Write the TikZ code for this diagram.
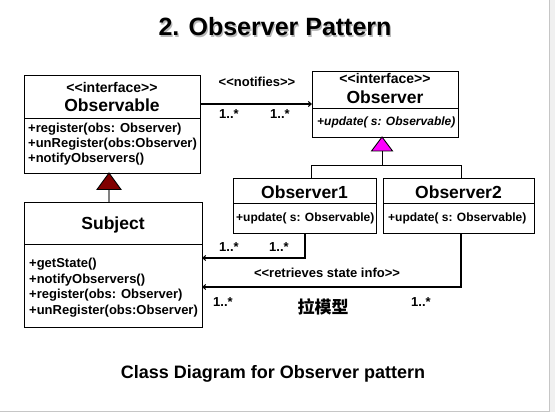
\documentclass[tikz,border=0pt]{standalone}
\usepackage{fontspec}
\setmainfont{Liberation Sans}[Ligatures=NoCommon]
\newfontfamily\cjkfont{Noto Sans CJK SC}
\usetikzlibrary{arrows.meta}
\definecolor{darkred}{HTML}{800000}
\definecolor{magentac}{HTML}{FF00FF}
\newcommand{\lt}{{<}}
\newcommand{\gtt}{{>}}
\begin{document}
\begin{tikzpicture}[x=1pt,y=-1pt,
  classbox/.style={draw, line width=0.9pt, rectangle, inner sep=0pt},
  cname/.style={font=\fontsize{17.5}{20}\selectfont\bfseries, anchor=base, inner sep=0pt},
  stereo/.style={font=\fontsize{14}{16}\selectfont\bfseries, anchor=base, inner sep=0pt},
  meth/.style={font=\fontsize{13}{15}\selectfont\bfseries, anchor=base west, inner sep=0pt},
  smeth/.style={font=\fontsize{12}{14}\selectfont\bfseries, anchor=base west, inner sep=0pt},
  lbl/.style={font=\fontsize{13}{15}\selectfont\bfseries, anchor=base, inner sep=0pt},
  conn/.style={line width=1.3pt},
  arr/.style={conn, -{Straight Barb[length=3pt,width=5pt,line width=1pt]}},
  thinline/.style={line width=0.9pt},
]
\useasboundingbox (0,0) rectangle (555,412);
% slide frame
\fill[gray!12] (549,0) rectangle (555,412);
\draw[gray!45, line width=1pt] (549,0) -- (549,411) -- (0,411);

% title
\node[font=\fontsize{25}{28}\selectfont\bfseries, text=gray!55, anchor=base, inner sep=0pt] (titleshadow) at (276.3,37.3) {2. Observer Pattern};
\node[font=\fontsize{25}{28}\selectfont\bfseries, anchor=base, inner sep=0pt] (title) at (275,36) {2. Observer Pattern};

% Observable
\node[classbox, minimum width=176pt, minimum height=98pt] (obl) at (112,124) {};
\draw[thinline] (24,118) -- (200,118);
\node[stereo] (oblst) at (112,93) {\lt\lt interface\gtt\gtt};
\node[cname] (obln) at (112,111) {Observable};
\node[meth] (oblm1) at (28,132) {+register(obs: Observer)};
\node[meth] (oblm2) at (28,147) {+unRegister(obs:Observer)};
\node[meth] (oblm3) at (28,162) {+notifyObservers()};

% Observer
\node[classbox, minimum width=146pt, minimum height=66pt] (obs) at (385,104) {};
\draw[thinline] (312,108) -- (458,108);
\node[stereo] (obsst) at (385,84) {\lt\lt interface\gtt\gtt};
\node[cname] (obsn) at (385,104) {Observer};
\node[smeth, font=\fontsize{12}{14}\selectfont\bfseries\itshape] (obsm) at (317,126) {+update( s: Observable)};

% Observer1
\node[classbox, minimum width=143pt, minimum height=55pt] (ob1) at (304.5,205.5) {};
\draw[thinline] (233,203) -- (376,203);
\node[cname] (ob1n) at (304.5,198) {Observer1};
\node[smeth] (ob1m) at (236,221) {+update( s: Observable)};

% Observer2
\node[classbox, minimum width=151pt, minimum height=55pt] (ob2) at (458.5,205.5) {};
\draw[thinline] (383,203) -- (534,203);
\node[cname] (ob2n) at (458.5,198) {Observer2};
\node[smeth] (ob2m) at (388,221) {+update( s: Observable)};

% Subject
\node[classbox, minimum width=178pt, minimum height=125pt] (subj) at (113,264.5) {};
\draw[thinline] (24,244) -- (202,244);
\node[cname] (subjn) at (113,229) {Subject};
\node[meth] (subjm1) at (29,267.5) {+getState()};
\node[meth] (subjm2) at (29,283) {+notifyObservers()};
\node[meth] (subjm3) at (29,298.5) {+register(obs: Observer)};
\node[meth] (subjm4) at (29,314) {+unRegister(obs:Observer)};

% generalization Subject -> Observable
\coordinate (gr) at (109,189.5);
\draw[gray, line width=2pt] (gr) -- (gr |- subj.north);
\draw[thinline, fill=darkred] (109,173) -- (97,189.5) -- (121,189.5) -- cycle;

% generalization Observer1/2 -> Observer
\coordinate (gm) at (382,151);
\coordinate (gj) at (382,165);
\coordinate (g1) at (311,165);
\coordinate (g2) at (461,165);
\draw[thinline] (gm) -- (gj);
\draw[thinline] (g1 |- ob1.north) -- (g1) -- (g2) -- (g2 |- ob2.north);
\draw[thinline, fill=magentac] (382,137) -- (371.5,151) -- (392.5,151) -- cycle;

% notifies
\coordinate (n1) at (200,104);
\coordinate (n2) at (312,104);
\draw[arr] (n1) -- (n2);
\node[lbl] (ntf) at (257,86.5) {\lt\lt notifies\gtt\gtt};
\node[lbl] (m1) at (229,119) {1..*};
\node[lbl] (m2) at (280,119) {1..*};

% Observer1 -> Subject
\coordinate (o1b) at (305,233);
\coordinate (s1) at (202,258);
\draw[arr] (o1b) |- (s1);
\node[lbl] (m3) at (229,251.5) {1..*};
\node[lbl] (m4) at (279,251.5) {1..*};

% Observer2 -> Subject
\coordinate (o2b) at (461,233);
\coordinate (s2) at (202,287);
\draw[arr] (o2b) |- (s2);
\node[lbl] (rsi) at (327,277.5) {\lt\lt retrieves state info\gtt\gtt};
\node[lbl] (m5) at (223,306.5) {1..*};
\node[lbl] (m6) at (421,306.5) {1..*};
\node[font=\cjkfont\fontsize{17}{20}\selectfont\bfseries, inner sep=0pt] (pull) at (323,307) {拉模型};

% caption
\node[font=\fontsize{18}{21}\selectfont\bfseries, anchor=base, inner sep=0pt] (cap) at (273,378) {Class Diagram for Observer pattern};
\end{tikzpicture}
\end{document}
